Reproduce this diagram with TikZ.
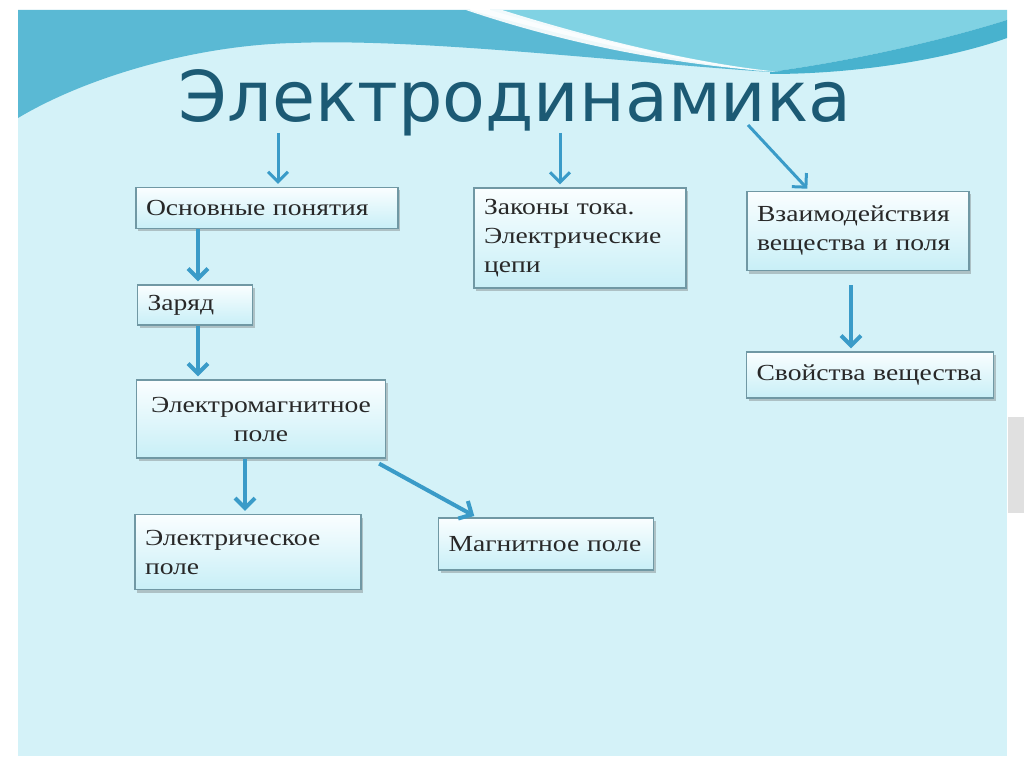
\documentclass[tikz,border=0pt]{standalone}
\usepackage{fontspec}
\setmainfont{Liberation Serif}
\newfontfamily\titlefont{DejaVu Sans}
\newfontfamily\boxfont[FakeStretch=1.2]{Liberation Serif}
\usetikzlibrary{positioning, arrows.meta, shadows, calc}

\definecolor{bglight}{RGB}{212,242,248}
\definecolor{banddark}{RGB}{90,185,212}
\definecolor{bandmid}{RGB}{128,210,227}
\definecolor{bandedge}{RGB}{72,178,206}
\definecolor{titleblue}{RGB}{28,90,116}
\definecolor{arrblue}{RGB}{58,155,200}
\definecolor{boxline}{RGB}{112,152,164}
\definecolor{boxtop}{RGB}{250,254,255}
\definecolor{boxbot}{RGB}{200,239,247}
\definecolor{boxtext}{RGB}{40,40,40}

\tikzset{
    box/.style={draw=boxline, line width=1.2pt, top color=boxtop, bottom color=boxbot,
        inner xsep=10pt, inner ysep=4pt, align=left, text=boxtext,
        font=\boxfont\fontsize{23}{29}\selectfont,
        drop shadow={shadow xshift=2pt, shadow yshift=-3pt, opacity=0.35, fill=black!60}},
    arr/.style={draw=arrblue, line width=4pt, shorten >=3pt,
        -{Straight Barb[length=10pt, width=20pt]}},
    tarr/.style={arr, line width=3pt},
}

\begin{document}
\begin{tikzpicture}[x=1pt, y=-1pt]
    \useasboundingbox (0,0) rectangle (1024,767);

    % Background and waves
    \fill[white] (0,0) rectangle (1024,767);
    \fill[bglight] (18,10) rectangle (1007,756);
    \fill[black!12] (1008,417) rectangle (1024,513);
    \fill[banddark] (18,10) -- (470,10) .. controls (560,35) and (670,62) .. (770,72)
        .. controls (620,62) and (420,38) .. (294,43)
        .. controls (200,45) and (90,75) .. (18,118) -- cycle;
    \fill[bandmid] (490,10) -- (1007,10) -- (1007,20)
        .. controls (950,38) and (860,60) .. (770,72)
        .. controls (680,60) and (575,35) .. (490,10) -- cycle;
    \fill[bandedge] (770,72) .. controls (860,60) and (950,38) .. (1007,20) -- (1007,38)
        .. controls (960,55) and (870,74) .. (770,74) -- cycle;
    \fill[white, opacity=0.9] (466,10) -- (502,10) .. controls (585,36) and (690,63) .. (780,72)
        .. controls (670,65) and (560,42) .. (466,10) -- cycle;

    % Title
    \node[font=\titlefont\fontsize{70}{78}\selectfont, text=titleblue, anchor=base]
        (title) at (515,122) {Электродинамика};

    % Boxes
    \node[box, text width=242pt, minimum height=41pt] (osn) at (267,208) {Основные понятия};
    \node[box, text width=95pt, minimum height=40pt] (zar) at (195,305) {Заряд};
    \node[box, text width=229pt, minimum height=78pt, align=center] (emf) at (261,419)
        {Электромагнитное\\поле};
    \node[box, text width=206pt, minimum height=75pt] (ele) at (248,552) {Электрическое\\поле};
    \node[box, text width=195pt, minimum height=52pt] (mag) at (546,544) {Магнитное поле};
    \node[box, text width=192pt, minimum height=100pt] (zak) at (580,238)
        {Законы тока.\\Электрические\\цепи};
    \node[box, text width=202pt, minimum height=79pt] (vza) at (858,231)
        {Взаимодействия\\вещества и поля};
    \node[box, text width=227pt, minimum height=46pt] (svo) at (870,375) {Свойства вещества};

    % Arrows from the title
    \coordinate (t1) at (278,133);
    \coordinate (t2) at (560,133);
    \coordinate (t3) at (748,125);
    \draw[tarr] (t1) -- (t1 |- osn.north);
    \draw[tarr] (t2) -- (t2 |- zak.north);
    \draw[tarr] (t3) -- ([xshift=63pt]vza.north west);

    % Arrows between boxes
    \draw[arr] ([xshift=-69pt]osn.south) -- ([xshift=3pt]zar.north);
    \draw[arr] ([xshift=3pt]zar.south) -- ([xshift=-63pt]emf.north);
    \draw[arr] ([xshift=-16pt]emf.south) -- ([xshift=-3pt]ele.north);
    \draw[arr] ([xshift=-7pt, yshift=-5pt]emf.south east) -- ([xshift=39pt]mag.north west);
    \draw[arr, shorten <=14pt] ([xshift=-7pt]vza.south) -- ([xshift=-19pt]svo.north);
\end{tikzpicture}
\end{document}
